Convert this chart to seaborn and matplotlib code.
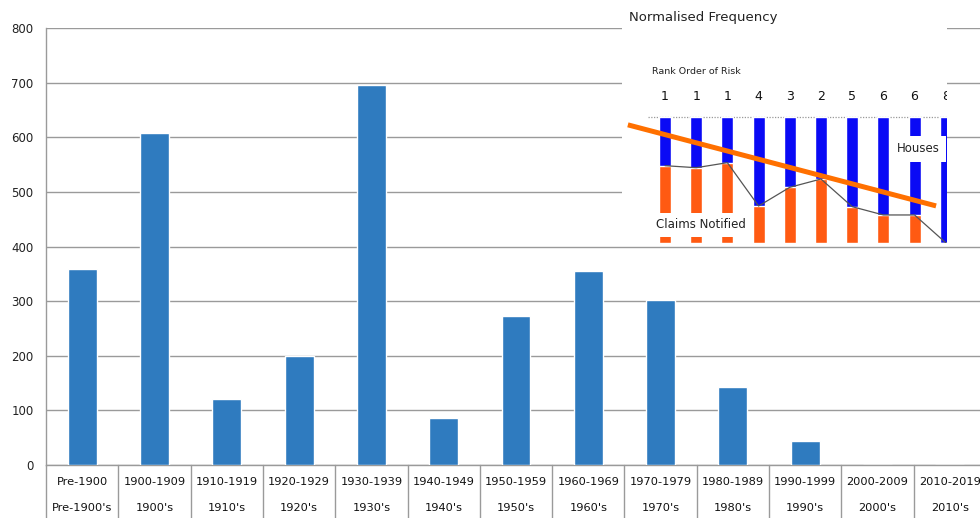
import numpy as np
import pandas as pd
import matplotlib.pyplot as plt
import seaborn as sns

# main chart data
periods = ["Pre-1900", "1900-1909", "1910-1919", "1920-1929", "1930-1939", "1940-1949",
           "1950-1959", "1960-1969", "1970-1979", "1980-1989", "1990-1999", "2000-2009", "2010-2019"]
decades = ["Pre-1900's", "1900's", "1910's", "1920's", "1930's", "1940's",
           "1950's", "1960's", "1970's", "1980's", "1990's", "2000's", "2010's"]
counts = [359, 608, 121, 200, 696, 86, 273, 355, 302, 143, 44, 0, 0]

# inset (pasted "Normalised Frequency" picture) data
risk_rank = ["1", "1", "1", "4", "3", "2", "5", "6", "6", "8"]
houses_share = [1.0] * 10
claims_share = [0.615, 0.599, 0.639, 0.294, 0.443, 0.509, 0.289, 0.223, 0.223, 0.002]
trend_x = [-1.19, 8.69]
trend_y = [0.94, 0.295]

sns.set_style("white")
plt.rcParams['font.family'] = ['DejaVu Sans']

W, H = 980, 518
fig = plt.figure(figsize=(W / 100, H / 100), dpi=100)

# main axes: x from 46px to 986px, y from 465px (0) to 28px (800)
ax = fig.add_axes([46 / W, (H - 465) / H, 940 / W, 437 / H])
df = pd.DataFrame({"period": periods, "count": counts})
sns.barplot(data=df, x="period", y="count", color="#2F7BBF", width=0.4, ax=ax,
            saturation=1, zorder=3)
ax.set_xlim(-0.5, len(periods) - 0.5)
ax.set_ylim(0, 800)
ax.set_yticks(range(0, 801, 100))
ax.yaxis.grid(True, color="#9A9A9A", lw=1)
ax.set_axisbelow(True)
ax.set_xlabel("")
ax.set_ylabel("")
ax.set_xticks(range(len(periods)))
ax.set_xticklabels([])
ax.tick_params(axis="both", length=0)
ax.tick_params(axis="y", labelsize=8.5, labelcolor="#222222", pad=9)
for s in ["top", "right"]:
    ax.spines[s].set_visible(False)
for s in ["left", "bottom"]:
    ax.spines[s].set_color("#9A9A9A")
    ax.spines[s].set_linewidth(1)

# category separators and two-row labels under the axis
tr = ax.get_xaxis_transform()
below = -54 / 437
for i in range(len(periods) + 1):
    ax.plot([i - 0.5, i - 0.5], [0, below], transform=tr, color="#9A9A9A", lw=1, clip_on=False)
for i, (p, d) in enumerate(zip(periods, decades)):
    ax.text(i, -17 / 437, p, transform=tr, ha="center", va="center", fontsize=8.2, color="#111111")
    ax.text(i, -43 / 437, d, transform=tr, ha="center", va="center", fontsize=8.2, color="#111111")

# inset picture: from x 622px to 947px, y 0px to 243px
ins = fig.add_axes([622 / W, (H - 243) / H, 325 / W, 243 / H])
ins.set_facecolor("white")
idx = np.arange(len(risk_rank))
sns.barplot(x=idx, y=houses_share, native_scale=True, color="#0A0AF5", width=0.385,
            saturation=1, ax=ins, zorder=2)
sns.barplot(x=idx, y=claims_share, native_scale=True, color="#FF5A12", width=0.385,
            saturation=1, ax=ins, zorder=3)
ins.plot(idx, claims_share, color="#555555", lw=0.9, zorder=4)
ins.axhline(1.0, xmin=26 / 325, xmax=1, color="#999999", lw=0.9, ls=(0, (1, 1.2)), zorder=1)
ins.plot(trend_x, trend_y, color="#FF7000", lw=3.6, solid_capstyle="butt", zorder=6)
ins.set_xlim(-1.378, 9.04)
ins.set_ylim(0, 1.933)
for s in ins.spines.values():
    s.set_visible(False)
ins.grid(False)
ins.set_xticks([])
ins.set_yticks([])
ins.set_xlabel("")
ins.set_ylabel("")

itr = ins.get_xaxis_transform()
ins.text(7 / 325, 1 - 18 / 243, "Normalised Frequency", transform=ins.transAxes,
         ha="left", va="center", fontsize=9.5, color="#222222")
ins.text(30 / 325, 1 - 71 / 243, "Rank Order of Risk", transform=ins.transAxes,
         ha="left", va="center", fontsize=6.8, color="#222222")
for i, r in zip(idx, risk_rank):
    ins.text(i, 1 - 96 / 243, r, transform=itr, ha="center", va="center",
             fontsize=9, color="#111111", clip_on=True)
ins.text(79 / 325, 1 - 225 / 243, "Claims Notified", transform=ins.transAxes,
         ha="center", va="center", fontsize=8.5, color="#222222", zorder=7,
         bbox=dict(boxstyle="square,pad=0.5", fc="white", ec="none"))
ins.text(296 / 325, 1 - 149 / 243, "Houses", transform=ins.transAxes,
         ha="center", va="center", fontsize=8.5, color="#222222", zorder=7, clip_on=True,
         bbox=dict(boxstyle="square,pad=0.55", fc="white", ec="none"))

fig.savefig("out.png", dpi=100)
